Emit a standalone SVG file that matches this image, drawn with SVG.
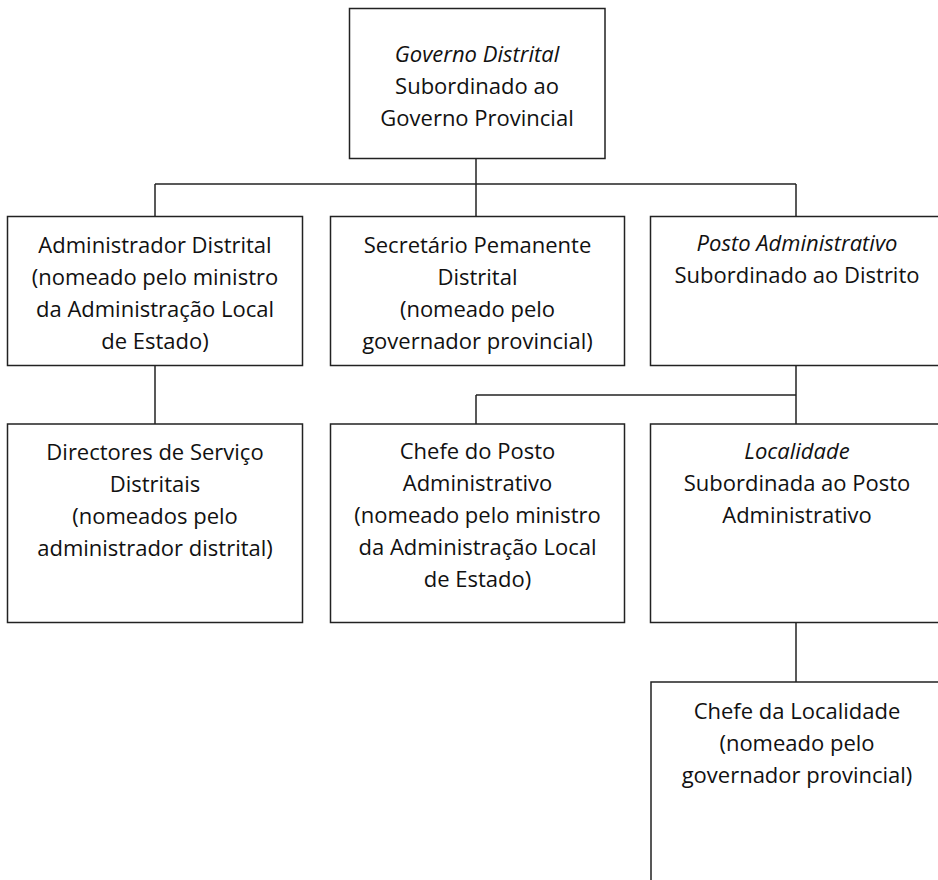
<svg xmlns="http://www.w3.org/2000/svg" width="938" height="880" viewBox="0 0 938 880">
<style>
.box{fill:#fff;stroke:#222;stroke-width:1.5}
.con line{stroke:#222;stroke-width:1.5}
text{font-family:"Open Sans","Noto Sans",sans-serif;font-size:22px;fill:#111;text-anchor:middle}
.i{font-style:italic}
</style>
<rect width="938" height="880" fill="#fff"/>
<g class="con" id="connectors">
<line x1="476" y1="158" x2="476" y2="184"/>
<line x1="155" y1="184" x2="796" y2="184"/>
<line x1="155" y1="184" x2="155" y2="217"/>
<line x1="476" y1="184" x2="476" y2="217"/>
<line x1="796" y1="184" x2="796" y2="217"/>
<line x1="155" y1="366" x2="155" y2="424"/>
<line x1="796" y1="366" x2="796" y2="424"/>
<line x1="476" y1="395" x2="796" y2="395"/>
<line x1="476" y1="395" x2="476" y2="424"/>
<line x1="796" y1="622" x2="796" y2="682"/>
</g>
<g id="governo">
<rect class="box" x="349.5" y="8.5" width="255.5" height="150"/>
<text x="477" y="62" class="i">Governo Distrital</text>
<text x="477" y="94">Subordinado ao</text>
<text x="477" y="126">Governo Provincial</text>
</g>
<g id="administrador">
<rect class="box" x="7.5" y="216.5" width="295" height="149"/>
<text x="155" y="253">Administrador Distrital</text>
<text x="155" y="285">(nomeado pelo ministro</text>
<text x="155" y="317">da Administração Local</text>
<text x="155" y="349">de Estado)</text>
</g>
<g id="secretario">
<rect class="box" x="330.5" y="216.5" width="294" height="149"/>
<text x="477.5" y="253">Secretário Pemanente</text>
<text x="477.5" y="285">Distrital</text>
<text x="477.5" y="317">(nomeado pelo</text>
<text x="477.5" y="349">governador provincial)</text>
</g>
<g id="posto">
<rect class="box" x="650.5" y="216.5" width="300" height="149"/>
<text x="797" y="251" class="i">Posto Administrativo</text>
<text x="797" y="283">Subordinado ao Distrito</text>
</g>
<g id="directores">
<rect class="box" x="7.5" y="424" width="295" height="198.5"/>
<text x="155" y="460">Directores de Serviço</text>
<text x="155" y="492">Distritais</text>
<text x="155" y="524">(nomeados pelo</text>
<text x="155" y="556">administrador distrital)</text>
</g>
<g id="chefe-posto">
<rect class="box" x="330.5" y="424" width="294" height="198.5"/>
<text x="477.5" y="459">Chefe do Posto</text>
<text x="477.5" y="491">Administrativo</text>
<text x="477.5" y="523">(nomeado pelo ministro</text>
<text x="477.5" y="555">da Administração Local</text>
<text x="477.5" y="587">de Estado)</text>
</g>
<g id="localidade">
<rect class="box" x="650.5" y="424" width="300" height="198.5"/>
<text x="797" y="459" class="i">Localidade</text>
<text x="797" y="491">Subordinada ao Posto</text>
<text x="797" y="523">Administrativo</text>
</g>
<g id="chefe-localidade">
<rect class="box" x="651" y="682" width="300" height="220"/>
<text x="797" y="719">Chefe da Localidade</text>
<text x="797" y="751">(nomeado pelo</text>
<text x="797" y="783">governador provincial)</text>
</g>
</svg>
